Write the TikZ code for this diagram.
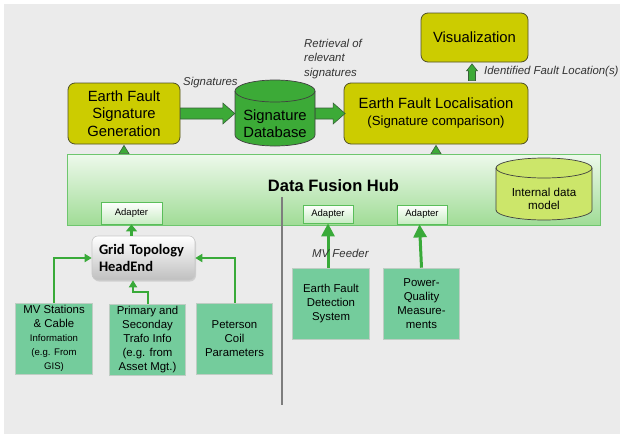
\documentclass[tikz,border=0pt]{standalone}
\usepackage{fontspec}
\setmainfont{Liberation Sans}
\newfontfamily\carlito{Carlito}
\usetikzlibrary{calc,arrows.meta,shadows}
\definecolor{bggray}{RGB}{235,235,235}
\definecolor{yfill}{RGB}{204,204,0}
\definecolor{yborder}{RGB}{80,80,40}
\definecolor{dbgreen}{RGB}{60,170,55}
\definecolor{fatborder}{RGB}{55,95,55}
\definecolor{lineg}{RGB}{57,170,57}
\definecolor{hubtop}{RGB}{238,249,236}
\definecolor{hubbot}{RGB}{160,220,150}
\definecolor{hubborder}{RGB}{110,198,110}
\definecolor{adgreen}{RGB}{200,236,195}
\definecolor{adborder}{RGB}{90,190,90}
\definecolor{idmfill}{RGB}{204,230,106}
\definecolor{gfill}{RGB}{116,204,156}
\definecolor{gborder}{RGB}{190,205,195}
\definecolor{heborder}{RGB}{200,200,200}
\definecolor{divgray}{RGB}{125,125,125}
\newcommand\fatarrowH[2]{\draw[fat] ($(#1)+(0,-5.5)$) -- ($(#2)+(-12,-5.5)$) -- ($(#2)+(-12,-10.5)$) -- (#2) -- ($(#2)+(-12,10.5)$) -- ($(#2)+(-12,5.5)$) -- ($(#1)+(0,5.5)$) -- cycle;}
\newcommand\fatarrowV[2]{\draw[fat] ($(#1)+(-3.5,0)$) -- ($(#2)+(-3.5,7)$) -- ($(#2)+(-5.5,7)$) -- (#2) -- ($(#2)+(5.5,7)$) -- ($(#2)+(3.5,7)$) -- ($(#1)+(3.5,0)$) -- cycle;}
\begin{document}
\begin{tikzpicture}[x=1pt,y=-1pt,
  ybox/.style={draw=yborder, fill=yfill, rounded corners=7pt, line width=0.8pt, align=center, inner sep=0pt},
  gbox/.style={draw=gborder, fill=gfill, line width=0.6pt, align=center, inner sep=0pt,
     font=\fontsize{11.4}{13.9}\selectfont, minimum width=76.5pt, minimum height=71pt},
  adapter/.style={draw=adborder, top color=white, bottom color=adgreen, line width=0.8pt,
     font=\fontsize{9.5}{11}\selectfont, inner sep=0pt},
  lbl/.style={font=\fontsize{11.4}{14.5}\selectfont\itshape, text=black!80, inner sep=0pt, align=left},
  fat/.style={fill=dbgreen, draw=fatborder, line width=0.6pt},
  conn/.style={draw=lineg, line width=2pt, -{Triangle[length=7pt,width=8pt]}},
  bigconn/.style={draw=lineg, line width=3pt, -{Triangle[length=13pt,width=13pt]}},
  midconn/.style={draw=lineg, line width=3pt, -{Triangle[length=7pt,width=11pt]}},
  cyl/.style={draw=black!75, line width=0.7pt}
]
\useasboundingbox (0,0) rectangle (620,434);
\fill[white] (0,0) rectangle (620,434);
\fill[bggray] (4,4) rectangle (620,434);

% top row
\node[ybox, minimum width=112pt, minimum height=61pt, font=\fontsize{14.8}{17.5}\selectfont] (sg) at (124,113.5) {Earth Fault\\Signature\\Generation};
\node[ybox, minimum width=184pt, minimum height=61pt, font=\fontsize{14.8}{17}\selectfont] (loc) at (436,113.5) {Earth Fault Localisation\\{\fontsize{13.2}{17}\selectfont (Signature comparison)}};
\node[ybox, minimum width=107pt, minimum height=49pt, font=\fontsize{14.8}{18}\selectfont] (vis) at (474.5,37.5) {Visualization};

% signature database cylinder
\node[minimum width=80pt, minimum height=66pt, inner sep=0pt] (db) at (275,113.5) {};
\path[cyl, fill=dbgreen] (235,91) -- (235,135) arc[start angle=180, end angle=360, x radius=40pt, y radius=11pt]
   -- (315,91) arc[start angle=0, end angle=180, x radius=40pt, y radius=11pt] -- cycle;
\draw[cyl] (235,91) arc[start angle=180, end angle=360, x radius=40pt, y radius=11pt];
\node[font=\fontsize{14.8}{17.5}\selectfont, align=center, inner sep=0pt] (dbtxt) at (275,123.5) {Signature\\Database};

% fat arrows
\coordinate (e1) at (sg.east -| db.west);
\fatarrowH{sg.east}{e1}
\coordinate (e2) at ($(db.east -| loc.west)+(1.5,0)$);
\fatarrowH{db.east}{e2}
\coordinate (u2) at ($(vis.south)+(-2.5,1.5)$);
\coordinate (u1a) at (u2 |- loc.north);
\coordinate (u1) at ($(u1a)+(0,-2)$);
\fatarrowV{u1}{u2}

% labels
\node[lbl, anchor=west] (lsig) at (183,83) {Signatures};
\node[lbl, anchor=west] (lret) at (304,59) {Retrieval of\\relevant\\signatures};
\node[lbl, anchor=west] (lidf) at (484,71.5) {Identified Fault Location(s)};

% data fusion hub
\node[draw=hubborder, line width=0.8pt, top color=hubtop, bottom color=hubbot, minimum width=533pt, minimum height=71pt, inner sep=0pt] (hub) at (333.5,189.5) {};
\node[font=\fontsize{16.5}{19}\selectfont\bfseries, inner sep=0pt] (hubtitle) at (333.5,186) {Data Fusion Hub};

% tips into top boxes
\coordinate (t1) at (hub.north -| sg.south);
\draw[fat] ($(t1)+(-5,0)$) -- ($(sg.south)+(0,1)$) -- ($(t1)+(5,0)$) -- cycle;
\coordinate (t2) at (hub.north -| loc.south);
\draw[fat] ($(t2)+(-5,0)$) -- ($(loc.south)+(0,1)$) -- ($(t2)+(5,0)$) -- cycle;

% internal data model
\path[cyl, fill=idmfill] (496,168) -- (496,210) arc[start angle=180, end angle=360, x radius=48pt, y radius=10pt]
   -- (592,168) arc[start angle=0, end angle=180, x radius=48pt, y radius=10pt] -- cycle;
\draw[cyl] (496,168) arc[start angle=180, end angle=360, x radius=48pt, y radius=10pt];
\node[font=\fontsize{11.6}{13.3}\selectfont, align=center, inner sep=0pt] (idm) at (544,198.5) {Internal data\\model};

% adapters
\node[adapter, minimum width=61pt, minimum height=22pt] (a1) at (131.5,213) {Adapter};
\node[adapter, minimum width=50pt, minimum height=18pt] (a2) at (328,214) {Adapter};
\node[adapter, minimum width=50pt, minimum height=19pt] (a3) at (422,214.5) {Adapter};

% divider
\draw[divgray, line width=1.5pt] (282,197) -- (282,405);

% grid topology headend
\node[draw=heborder, line width=0.6pt, rounded corners=6pt, top color=white, bottom color=black!25,
  drop shadow={opacity=0.25, shadow xshift=1pt, shadow yshift=-1.5pt},
  text width=89pt, inner xsep=7pt, inner ysep=0pt, minimum height=44pt, align=left,
  font=\carlito\bfseries\fontsize{14.5}{17}\selectfont] (he) at (143.5,258) {Grid Topology\\HeadEnd};

% source boxes
\node[gbox] (mv) at (54,338.5) {MV Stations\\\& Cable\\{\fontsize{9.6}{12}\selectfont Information}\\{\fontsize{9.6}{12}\selectfont (e.g. From}\\{\fontsize{9.6}{12}\selectfont GIS)}};
\node[gbox] (pr) at (147.5,339.5) {Primary and\\Seconday\\Trafo Info\\(e.g. from\\Asset Mgt.)};
\node[gbox] (pe) at (234.5,338.5) {Peterson\\Coil\\Parameters};
\node[gbox] (efd) at (331,303.5) {Earth Fault\\Detection\\System};
\node[gbox] (pq) at (421.5,303.5) {Power-\\Quality\\Measure-\\ments};

% connectors
\draw[midconn] (a1.south |- he.north) -- (a1.south);
\draw[conn] (mv.north) |- (he.west);
\draw[conn] (pe.north) |- (he.east);
\draw[conn] (pr.north) -- ++(0,-12) -| ($(he.south)+(-10.5,0)$);
\draw[bigconn] (a2.south |- efd.north) -- (a2.south);
\draw[bigconn] (pq.north) -- ($(a3.south)+(-2.5,0)$);

\node[lbl, anchor=west] (lmv) at (312,253) {MV Feeder};
\end{tikzpicture}
\end{document}
